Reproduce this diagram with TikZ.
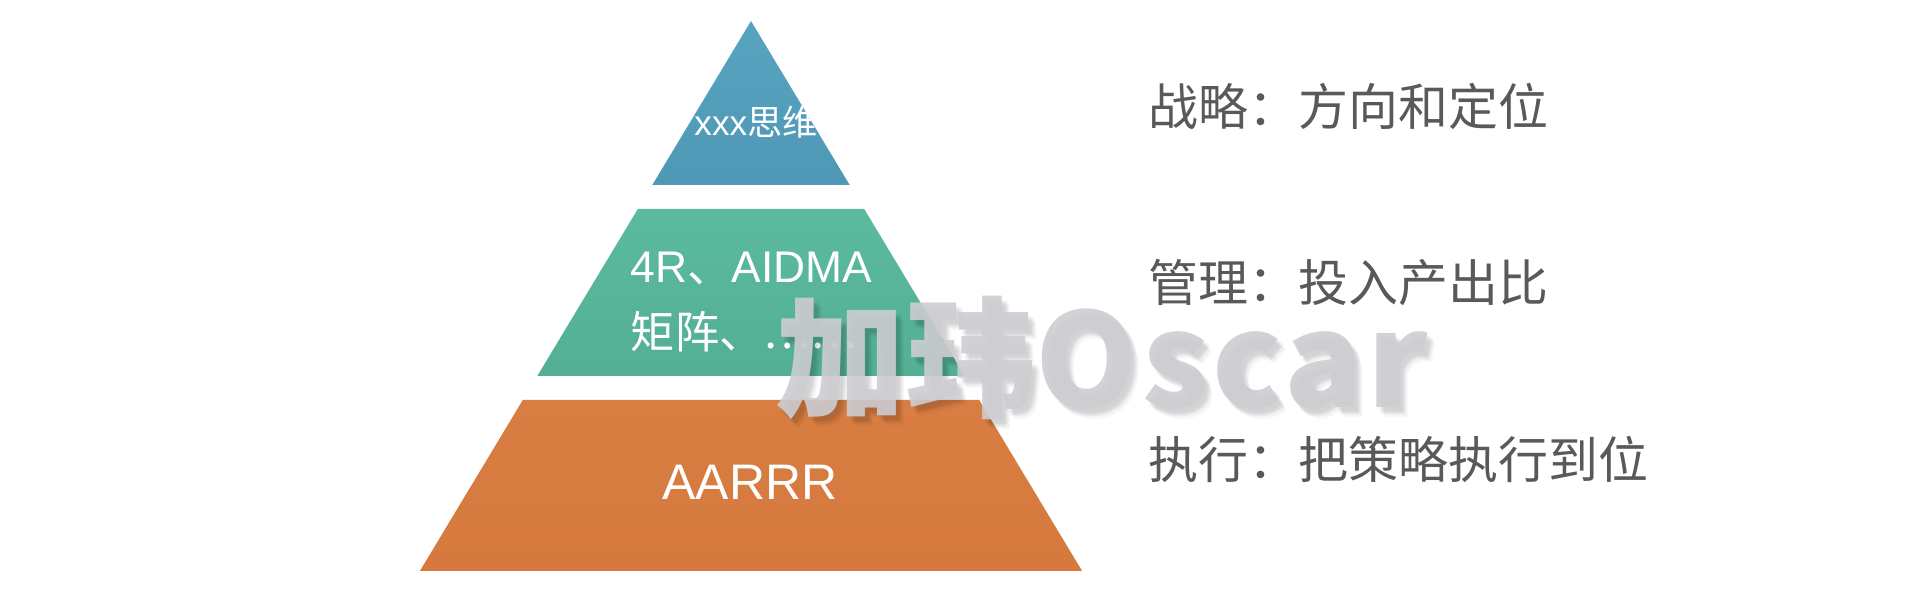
\documentclass[tikz,border=0pt]{standalone}
\usepackage{fontspec}
\setmainfont{Liberation Sans}
\newfontfamily\cjk{Noto Sans CJK SC}

\definecolor{bluetop}{HTML}{57A4C1}
\definecolor{bluebot}{HTML}{4F98B5}
\definecolor{greentop}{HTML}{5BBA9F}
\definecolor{greenbot}{HTML}{54AF94}
\definecolor{orangetop}{HTML}{D97E42}
\definecolor{orangemid}{HTML}{DE8245}
\definecolor{orangebot}{HTML}{D5793E}
\definecolor{sidegray}{HTML}{595959}
\definecolor{markgray}{RGB}{205,205,210}

\tikzset{
    bandtext/.style={text=white, inner sep=0pt},
    sidetext/.style={text=sidegray, inner sep=0pt, anchor=base west,
        font=\cjk\fontsize{14.2}{16}\selectfont},
    watermark/.style={inner sep=0pt, anchor=base west,
        font=\cjk\bfseries\fontsize{37}{40}\selectfont},
}

\newcommand{\marktext}{加玮{\addfontfeature{LetterSpace=3}Oscar}}

\begin{document}
\begin{tikzpicture}[x=0.01cm, y=0.01cm]
    \useasboundingbox (0,0) rectangle (1920,600);

    \def \ax {751};
    \def \ay {579};

    % top: xxx
    \begin{scope}
        \clip (\ax, \ay) -- (\ax + 98.7, 415) -- (\ax - 98.7, 415) -- cycle;
        \shade[top color=bluetop, bottom color=bluebot] (\ax, \ay) -- (\ax + 98.7, 415) -- (\ax - 98.7, 415) -- cycle;
        \node[bandtext, anchor=base, font=\fontsize{10}{12}\selectfont] (think) at (756, 464) {xxx{\cjk 思维}};
    \end{scope}

    % middle
    \shade[top color=greentop, bottom color=greenbot] (\ax - 113.2, 391) -- (\ax + 113.2, 391) -- (\ax + 213.7, 224) -- (\ax - 213.7, 224) -- cycle;
    \node[bandtext, anchor=base west, font=\fontsize{12.6}{14}\selectfont] (tools) at (630, 317) {4R{\cjk 、}AIDMA};
    \node[bandtext, anchor=base west, font=\cjk\fontsize{12.6}{14}\selectfont] (matrix) at (630, 251) {矩阵、……};

    % bottom
    \shade[top color=orangetop, middle color=orangemid, bottom color=orangebot] (\ax - 228.2, 200) -- (\ax + 228.2, 200) -- (\ax + 331.1, 29) -- (\ax - 331.1, 29) -- cycle;
    \node[bandtext, anchor=base, font=\fontsize{14.2}{16}\selectfont] (aarrr) at (750, 100) {AARRR};

    % right side
    \node[sidetext] (strategy) at (1148, 474.5) {战略：方向和定位};
    \node[sidetext] (manage) at (1148, 298) {管理：投入产出比};
    \node[sidetext] (execute) at (1148, 121) {执行：把策略执行到位};

    % watermark, soft shadow first
    \foreach \dx/\dy in {3/-4, 5/-6, 7/-8, 4/-7, 6/-5, 8/-10}
        \node[watermark, text=black, opacity=0.03] at (775 + \dx, 192 + \dy) {\marktext};
    \node[watermark, text=markgray, opacity=0.9] (wm) at (775, 192) {\marktext};

\end{tikzpicture}
\end{document}
